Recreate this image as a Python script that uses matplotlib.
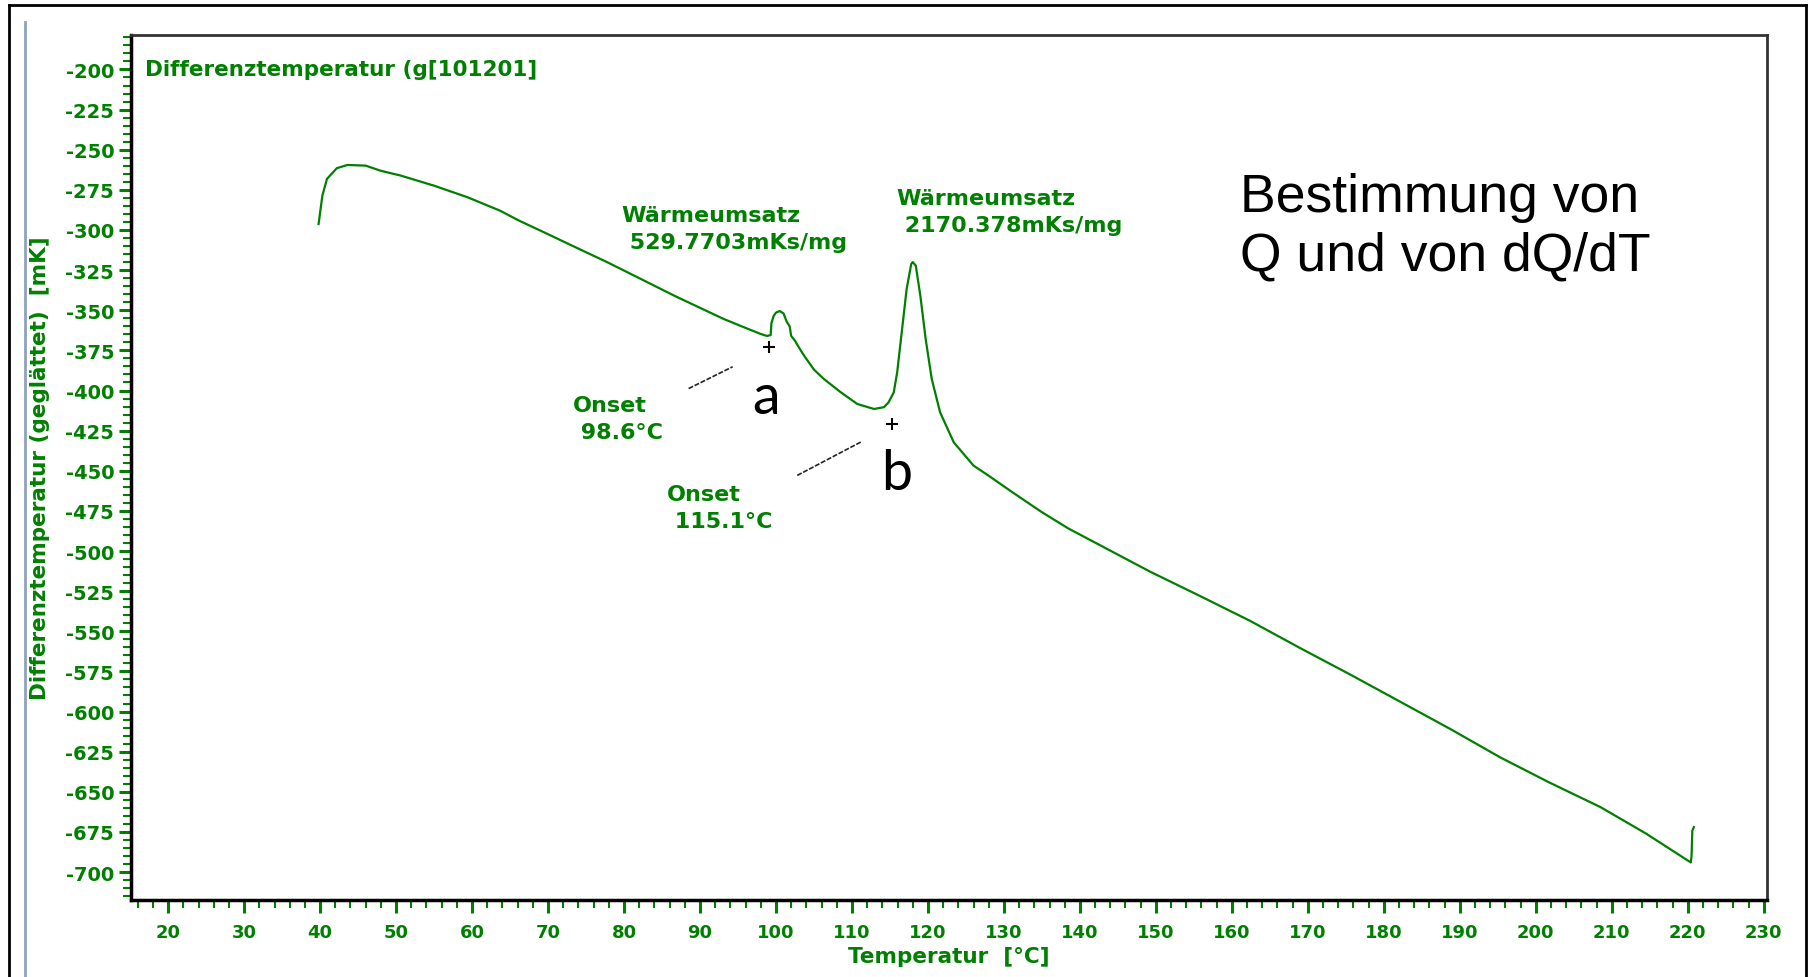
import matplotlib
matplotlib.use("Agg")
import matplotlib.pyplot as plt
from matplotlib.lines import Line2D
from matplotlib.ticker import MultipleLocator

plt.rcParams['axes.unicode_minus'] = False

# DSC curve
temp = [39.8, 40.3, 40.9, 42.2, 43.6, 46.0, 47.9, 50.6, 55.0, 59.4, 63.7, 66.2,
        69.0, 73.5, 77.8, 82.0, 86.6, 90.0, 93.1, 96.0, 98.0, 98.8, 99.3, 99.4,
        99.7, 100.0, 100.5, 101.0, 101.4, 101.8, 102.0, 102.5, 103.0, 103.7,
        105.0, 106.3, 108.5, 110.7, 112.9, 114.2, 114.8, 115.5, 115.95, 116.6,
        117.2, 117.8, 118.0, 118.4, 119.0, 119.7, 120.5, 121.6, 123.4, 126.0,
        128.0, 131.0, 134.9, 138.5, 142.5, 149.3, 155.8, 162.4, 169.0, 175.6,
        182.2, 188.8, 195.3, 201.7, 208.5, 214.5, 220.4, 220.5, 220.6, 220.8]
dtemp = [-296.3, -278.6, -268.2, -261.5, -259.5, -259.9, -263.0, -266.1, -272.4,
         -279.6, -288.0, -294.2, -300.4, -310.5, -320.1, -330.0, -340.9, -348.5,
         -355.4, -361.0, -364.8, -366.0, -365.5, -358.0, -353.5, -351.5, -350.5,
         -352.0, -357.0, -360.0, -366.0, -369.0, -373.0, -378.3, -387.0, -392.8,
         -401.0, -408.4, -411.5, -410.4, -407.5, -401.2, -388.7, -361.7, -336.7,
         -321.2, -320.0, -322.2, -340.9, -367.9, -392.8, -413.6, -432.3, -446.8,
         -453.1, -463.0, -475.5, -486.0, -496.0, -513.0, -528.0, -543.5, -560.5,
         -577.0, -594.0, -611.0, -628.5, -644.0, -659.5, -676.0, -694.0, -690.0,
         -674.3, -672.0]

# onset markers (+) and annotation texts
onset_x = [99.06, 115.27]
onset_y = [-373.1, -420.9]
onset_labels = ["Onset\n 98.6°C", "Onset\n 115.1°C"]
onset_text_xy = [(73.3, -417.5), (85.6, -473.0)]
leader_lines = [((88.5, 94.3), (-398.8, -385.2)), ((102.8, 111.2), (-452.9, -432.0))]
heat_labels = ["Wärmeumsatz\n 529.7703mKs/mg", "Wärmeumsatz\n 2170.378mKs/mg"]
heat_text_xy = [(79.7, -299.0), (115.9, -288.5)]
letters = ["a", "b"]
letter_xy = [(98.7, -404.6), (115.9, -451.4)]

green = '#008000'

fig = plt.figure(figsize=(18.13, 9.78), dpi=100)
ax = fig.add_axes([0.0722, 0.0789, 0.9023, 0.8845])

ax.plot(temp, dtemp, color=green, lw=1.6)

ax.set_xlim(15.1, 230.4)
ax.set_ylim(-717.3, -178.4)
ax.set_xticks(range(20, 231, 10))
ax.set_yticks(range(-700, -199, 25))
ax.xaxis.set_minor_locator(MultipleLocator(2))
ax.yaxis.set_minor_locator(MultipleLocator(5))
ax.tick_params(which='major', direction='out', length=9, width=2.2, color=green,
               labelcolor=green)
ax.tick_params(which='minor', direction='out', length=5.5, width=1.5, color=green)
ax.tick_params(axis='x', pad=8, labelsize=13)
ax.tick_params(axis='y', pad=3, labelsize=14)
for lab in ax.get_xticklabels() + ax.get_yticklabels():
    lab.set_fontweight('bold')

for side in ['left', 'bottom']:
    ax.spines[side].set_linewidth(2.5)
    ax.spines[side].set_color('black')
for side in ['top', 'right']:
    ax.spines[side].set_linewidth(2)
    ax.spines[side].set_color('#333333')

ax.set_xlabel('Temperatur  [°C]', color=green, fontsize=15.5, fontweight='bold', labelpad=3)
ax.set_ylabel('Differenztemperatur (geglättet)  [mK]', color=green, fontsize=15.5,
              fontweight='bold')
ax.yaxis.set_label_coords(-0.0495, 0.5)

ax.text(0.0085, 0.96, 'Differenztemperatur (g[101201]', transform=ax.transAxes,
        color=green, fontsize=15.5, fontweight='bold', ha='left', va='center')

for (tx, ty), s in zip(heat_text_xy, heat_labels):
    ax.text(tx, ty, s, color=green, fontsize=16, fontweight='bold',
            ha='left', va='center', linespacing=1.45)
for (tx, ty), s in zip(onset_text_xy, onset_labels):
    ax.text(tx, ty, s, color=green, fontsize=16, fontweight='bold',
            ha='left', va='center', linespacing=1.45)

for lx, ly in leader_lines:
    ax.plot(lx, ly, color='#222222', lw=1.2, linestyle=(0, (3, 1)))
ax.plot(onset_x, onset_y, linestyle='none', marker='+', markersize=9,
        markeredgewidth=1.5, color='black')

for (tx, ty), s in zip(letter_xy, letters):
    ax.text(tx, ty, s, color='black', fontsize=40, family='Lato',
            ha='center', va='center')

ax.text(0.678, 0.841, 'Bestimmung von\nQ und von dQ/dT', transform=ax.transAxes,
        color='black', fontsize=38.5, family='Liberation Sans', ha='left', va='top')

# outer slide frame and blue margin line
fig.add_artist(Line2D([0.005, 0.005], [0, 0.9939], color='black', lw=2,
                      transform=fig.transFigure))
fig.add_artist(Line2D([0.005, 0.9961], [0.9939, 0.9939], color='black', lw=2,
                      transform=fig.transFigure))
fig.add_artist(Line2D([0.9961, 0.9961], [0, 0.9939], color='black', lw=2,
                      transform=fig.transFigure))
fig.add_artist(Line2D([0.0138, 0.0138], [0, 0.9765], color='#8da2bd', lw=2,
                      transform=fig.transFigure))

fig.savefig('out.png', dpi=100)
